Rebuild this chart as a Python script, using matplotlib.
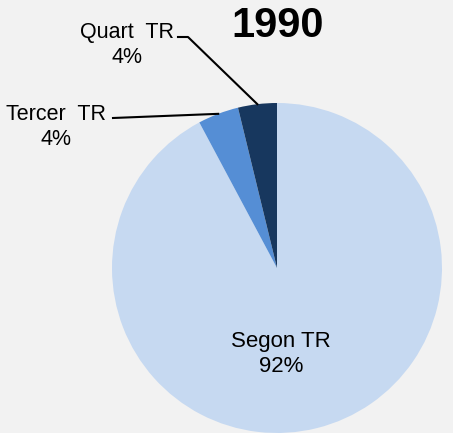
import numpy as np
import matplotlib.pyplot as plt

categories = ["Segon TR", "Tercer TR", "Quart TR"]
values = [92.2, 4.0, 3.8]
colors = ["#C6D9F1", "#558ED5", "#17375E"]
title = "1990"

W, H = 453, 433
fig = plt.figure(figsize=(W / 100, H / 100), dpi=100, facecolor="#F2F2F2")
ax = fig.add_axes([0, 0, 1, 1])
ax.set_facecolor("#F2F2F2")

cx, cy, r = 277, H - 268, 165
wedges, _ = ax.pie(values, colors=colors, startangle=90, counterclock=False,
                   center=(cx, cy), radius=r, frame=True,
                   wedgeprops=dict(linewidth=0))

ax.set_xlim(0, W)
ax.set_ylim(0, H)
ax.set_aspect("equal")
ax.axis("off")

font = ["Liberation Sans", "DejaVu Sans"]
pct = [f"{round(v / sum(values) * 100)}%" for v in values]


def edge_point(w):
    ang = np.deg2rad((w.theta1 + w.theta2) / 2)
    return cx + r * np.cos(ang), cy + r * np.sin(ang)


# Segon TR inside
ax.text(281, H - 354, f"{categories[0]}\n{pct[0]}", ha="center", va="center",
        fontsize=16, family=font, linespacing=1.2)

# Tercer TR outside, leader line
ex, ey = edge_point(wedges[1])
ax.text(56, H - 127, f"Tercer  TR\n{pct[1]}", ha="center", va="center",
        fontsize=15.5, family=font, linespacing=1.2)
ax.plot([113, ex], [H - 118, ey], color="black", lw=1.5)

# Quart TR outside, leader line
ex, ey = edge_point(wedges[2])
ax.text(127, H - 45, f"Quart  TR\n{pct[2]}", ha="center", va="center",
        fontsize=15.5, family=font, linespacing=1.2)
ax.plot([178, 188, ex], [H - 37, H - 37, ey], color="black", lw=1.5)

ax.text(278, H - 26, title, ha="center", va="center", fontsize=30,
        fontweight="bold", family=font)

fig.savefig("out.png", dpi=100, facecolor=fig.get_facecolor())
